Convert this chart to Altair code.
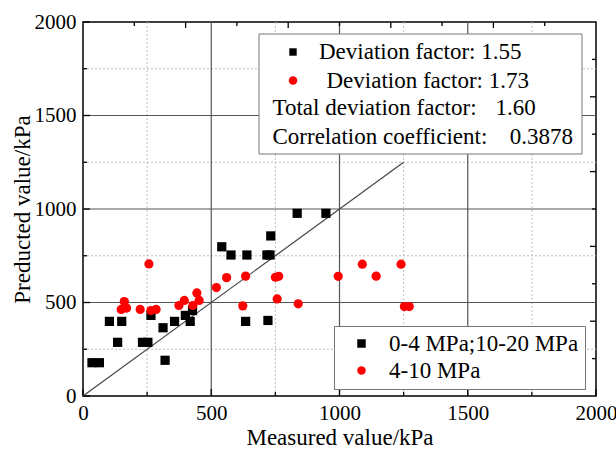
import altair as alt
import pandas as pd

FONT = "Liberation Serif"

series_names = ["0-4 MPa;10-20 MPa", "4-10 MPa"]
series_colors = ["#000000", "#ff0000"]
series_shapes = ["square", "circle"]

black_x = [35, 64, 103, 135, 151, 232, 253, 265, 312, 320, 357, 399, 418, 427,
           541, 577, 634, 639, 717, 721, 729, 732, 835, 947]
black_y = [178, 178, 399, 287, 399, 287, 287, 431, 365, 191, 399, 431, 399, 457,
           798, 754, 399, 754, 754, 404, 754, 856, 977, 977]

red_x = [149, 161, 170, 223, 257, 265, 285, 374, 395, 428, 444, 453, 520, 560,
         623, 634, 750, 763, 757, 839, 995, 1089, 1143, 1240, 1253, 1272]
red_y = [463, 505, 470, 463, 706, 457, 463, 484, 511, 484, 551, 511, 580, 633,
         482, 641, 635, 640, 519, 493, 640, 705, 641, 705, 478, 478]

axis_labels = [0, 500, 1000, 1500, 2000]
grid_major = [500, 1000, 1500]
grid_minor = [250, 750, 1250, 1750]
tick_major_bl = [0, 500, 1000, 1500, 2000]
tick_minor_bl = [250, 750, 1250, 1750]
tick_major_tr = [400, 800, 1200, 1600]
tick_minor_tr = [200, 600, 1000, 1400, 1800]
diag = [0, 1250]

W, H = 513, 374

xs = alt.Scale(domain=[0, 2000], nice=False, zero=False)
ys = alt.Scale(domain=[0, 2000], nice=False, zero=False)

xax = alt.Axis(values=axis_labels, title="Measured value/kPa", format="d",
               ticks=False, domain=False, grid=False, labelFlush=False,
               labelPadding=6, titlePadding=3, labelFont=FONT, labelFontSize=21,
               labelColor="black", titleFont=FONT, titleFontSize=23,
               titleFontWeight="normal", titleColor="black")
yax = alt.Axis(values=axis_labels, title="Preducted value/kPa", format="d",
               ticks=False, domain=False, grid=False, labelFlush=False,
               labelPadding=7, titlePadding=0, labelFont=FONT, labelFontSize=21,
               labelColor="black", titleFont=FONT, titleFontSize=23,
               titleFontWeight="normal", titleColor="black")

one = pd.DataFrame({"a": [0]})


def X(f="v"):
    return alt.X(f"{f}:Q", scale=xs, axis=xax)


def Y(f="v"):
    return alt.Y(f"{f}:Q", scale=ys, axis=yax)


layers = []

# grid
for vals, color, dash, sw in [(grid_minor, "#bdbdbd", [2, 2], 1.0),
                              (grid_major, "#555555", [], 1.2)]:
    d = pd.DataFrame({"v": vals})
    kw = dict(color=color, strokeWidth=sw)
    if dash:
        kw["strokeDash"] = dash
    layers.append(alt.Chart(d).mark_rule(**kw).encode(
        x=X(), y=alt.value(0), y2=alt.value(H)))
    layers.append(alt.Chart(d).mark_rule(**kw).encode(
        y=Y(), x=alt.value(0), x2=alt.value(W)))


# inside ticks
def ticks(vals, side, length):
    d = pd.DataFrame({"v": vals})
    m = alt.Chart(d).mark_rule(color="black", strokeWidth=1.3)
    if side == "bottom":
        return m.encode(x=X(), y=alt.value(H), y2=alt.value(H - length))
    if side == "top":
        return m.encode(x=X(), y=alt.value(0), y2=alt.value(length))
    if side == "left":
        return m.encode(y=Y(), x=alt.value(0), x2=alt.value(length))
    return m.encode(y=Y(), x=alt.value(W), x2=alt.value(W - length))


layers += [ticks(tick_major_bl, "bottom", 7), ticks(tick_minor_bl, "bottom", 4),
           ticks(tick_major_bl, "left", 7), ticks(tick_minor_bl, "left", 4),
           ticks(tick_major_tr, "top", 6), ticks(tick_minor_tr, "top", 4),
           ticks(tick_major_tr, "right", 6), ticks(tick_minor_tr, "right", 4)]

# 1:1 line
layers.append(alt.Chart(pd.DataFrame({"x": diag, "y": diag})).mark_line(
    color="#444444", strokeWidth=1.2).encode(x=X("x"), y=Y("y")))

# points
pts = pd.DataFrame({
    "x": black_x + red_x,
    "y": black_y + red_y,
    "group": [series_names[0]] * len(black_x) + [series_names[1]] * len(red_x),
})
leg = alt.Legend(title=None, orient="none", legendX=251, legendY=304,
                 fillColor="white", strokeColor="#777777", padding=6,
                 symbolOffset=10, labelOffset=16, labelFont=FONT,
                 labelFontSize=23, labelColor="black", rowPadding=3,
                 symbolSize=72, symbolStrokeWidth=0, labelLimit=400)
layers.append(alt.Chart(pts).mark_point(filled=True, opacity=1, size=85,
                                        strokeWidth=0).encode(
    x=X("x"), y=Y("y"),
    color=alt.Color("group:N", scale=alt.Scale(domain=series_names, range=series_colors), legend=leg),
    shape=alt.Shape("group:N", scale=alt.Scale(domain=series_names, range=series_shapes), legend=leg),
    order=alt.Order("idx:Q"),
).transform_window(idx="row_number()"))

# annotation box
layers.append(alt.Chart(one).mark_rect(fill="white", stroke="#777777", strokeWidth=1).encode(
    x=alt.value(176), x2=alt.value(499), y=alt.value(12), y2=alt.value(132)))
layers.append(alt.Chart(one).mark_point(shape="square", filled=True, size=55, color="black",
                                        opacity=1, strokeWidth=0).encode(
    x=alt.value(210), y=alt.value(30)))
layers.append(alt.Chart(one).mark_point(shape="circle", filled=True, size=72, color="#ff0000",
                                        opacity=1, strokeWidth=0).encode(
    x=alt.value(210), y=alt.value(58.5)))


def label(text, x, y, align="left"):
    return alt.Chart(one).mark_text(text=text, align=align, baseline="middle", font=FONT,
                                    fontSize=23, color="black").encode(
        x=alt.value(x), y=alt.value(y))


layers += [label("Deviation factor: 1.55", 236, 30),
           label("Deviation factor: 1.73", 243.5, 58.5),
           label("Total deviation factor:", 189.5, 86),
           label("1.60", 412.5, 86),
           label("Correlation coefficient:", 189.5, 115),
           label("0.3878", 490, 115, "right")]

chart = alt.layer(*layers).properties(
    width=W, height=H,
    padding={"left": 83, "top": 22, "right": 20, "bottom": 59},
    autosize=alt.AutoSizeParams(type="none"),
    background="white",
).configure_view(stroke="black", strokeWidth=1.5)

chart.save("out.html", embed_options={"renderer": "svg", "actions": False})
